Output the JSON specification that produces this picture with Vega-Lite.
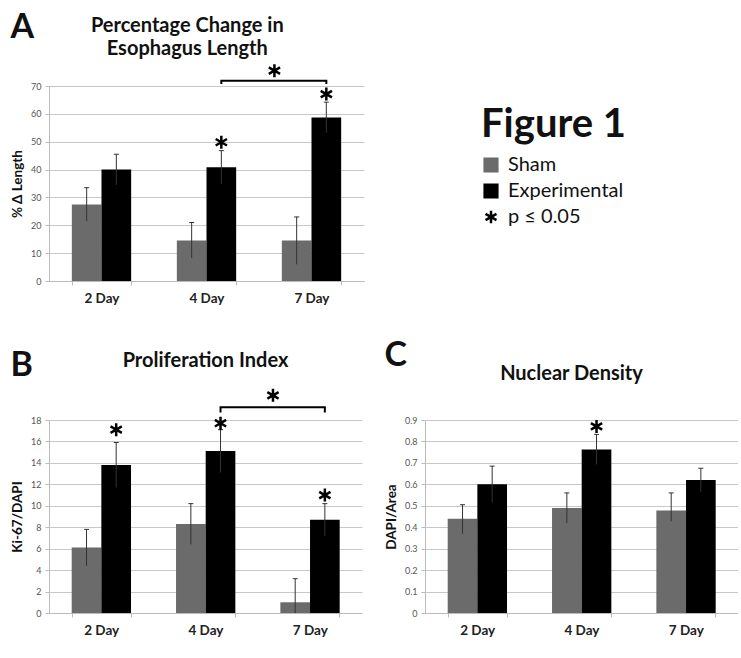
{
  "$schema": "https://vega.github.io/schema/vega-lite/v6.json",
  "padding": {"left": 10, "top": 11, "right": 0, "bottom": 0},
  "background": "white",
  "datasets": {
    "bars": [
      {"panel": "A", "day": "2 Day", "group": "Sham", "value": 27.5, "lo": 21.5, "hi": 33.5},
      {"panel": "A", "day": "2 Day", "group": "Experimental", "value": 40.0, "lo": 34.5, "hi": 45.5},
      {"panel": "A", "day": "4 Day", "group": "Sham", "value": 14.5, "lo": 8.2, "hi": 21.0},
      {"panel": "A", "day": "4 Day", "group": "Experimental", "value": 40.8, "lo": 34.8, "hi": 46.8},
      {"panel": "A", "day": "7 Day", "group": "Sham", "value": 14.5, "lo": 6.0, "hi": 23.0},
      {"panel": "A", "day": "7 Day", "group": "Experimental", "value": 58.7, "lo": 53.2, "hi": 64.2},
      {"panel": "B", "day": "2 Day", "group": "Sham", "value": 6.1, "lo": 4.4, "hi": 7.8},
      {"panel": "B", "day": "2 Day", "group": "Experimental", "value": 13.8, "lo": 11.7, "hi": 15.9},
      {"panel": "B", "day": "4 Day", "group": "Sham", "value": 8.3, "lo": 6.4, "hi": 10.2},
      {"panel": "B", "day": "4 Day", "group": "Experimental", "value": 15.1, "lo": 13.1, "hi": 17.1},
      {"panel": "B", "day": "7 Day", "group": "Sham", "value": 1.0, "lo": 0.0, "hi": 3.2},
      {"panel": "B", "day": "7 Day", "group": "Experimental", "value": 8.7, "lo": 7.2, "hi": 10.2},
      {"panel": "C", "day": "2 Day", "group": "Sham", "value": 0.44, "lo": 0.37, "hi": 0.505},
      {"panel": "C", "day": "2 Day", "group": "Experimental", "value": 0.60, "lo": 0.515, "hi": 0.685},
      {"panel": "C", "day": "4 Day", "group": "Sham", "value": 0.49, "lo": 0.42, "hi": 0.56},
      {"panel": "C", "day": "4 Day", "group": "Experimental", "value": 0.763, "lo": 0.693, "hi": 0.833},
      {"panel": "C", "day": "7 Day", "group": "Sham", "value": 0.478, "lo": 0.428, "hi": 0.56},
      {"panel": "C", "day": "7 Day", "group": "Experimental", "value": 0.62, "lo": 0.565, "hi": 0.675}
    ],
    "stars": [
      {"panel": "A", "day": "4 Day", "group": "Experimental", "y": 49.8},
      {"panel": "A", "day": "7 Day", "group": "Experimental", "y": 67.1},
      {"panel": "B", "day": "2 Day", "group": "Experimental", "y": 17.1},
      {"panel": "B", "day": "4 Day", "group": "Experimental", "y": 17.7},
      {"panel": "B", "day": "7 Day", "group": "Experimental", "y": 11.0},
      {"panel": "C", "day": "4 Day", "group": "Experimental", "y": 0.87}
    ],
    "bracket": [
      {"panel": "A", "day": "4 Day", "group": "Experimental", "y": 70.7, "k": 1},
      {"panel": "A", "day": "4 Day", "group": "Experimental", "y": 71.9, "k": 2},
      {"panel": "A", "day": "7 Day", "group": "Experimental", "y": 71.9, "k": 3},
      {"panel": "A", "day": "7 Day", "group": "Experimental", "y": 70.7, "k": 4},
      {"panel": "B", "day": "4 Day", "group": "Experimental", "y": 18.7, "k": 1},
      {"panel": "B", "day": "4 Day", "group": "Experimental", "y": 19.2, "k": 2},
      {"panel": "B", "day": "7 Day", "group": "Experimental", "y": 19.2, "k": 3},
      {"panel": "B", "day": "7 Day", "group": "Experimental", "y": 18.7, "k": 4}
    ],
    "bstars": [
      {"panel": "A", "day": "7 Day", "y": 75.5},
      {"panel": "B", "day": "7 Day", "y": 20.3}
    ],
    "legend": [
      {"item": "Sham"},
      {"item": "Experimental"},
      {"item": "p ≤ 0.05"}
    ]
  },
  "vconcat": [
    {
      "spacing": 115,
      "hconcat": [
        {
          "title": {"text": "A", "anchor": "start", "fontSize": 34, "offset": -29, "frame": "bounds"},
          "vconcat": [
            {
              "width": 315,
              "height": 195,
              "title": {"text": ["Percentage Change in", "Esophagus Length"], "offset": 0, "frame": "bounds", "fontSize": 20},
              "layer": [
                {
                  "data": {"name": "bars"},
                  "transform": [{"filter": "datum.panel === 'A'"}],
                  "mark": {"type": "bar"},
                  "encoding": {
                    "x": {"field": "day", "type": "nominal", "title": null, "scale": {"domain": ["2 Day", "4 Day", "7 Day"], "paddingInner": 0.435, "paddingOuter": 0.2175}},
                    "xOffset": {"field": "group", "type": "nominal", "scale": {"domain": ["Sham", "Experimental"], "paddingInner": 0, "paddingOuter": 0}},
                    "y": {"field": "value", "type": "quantitative", "title": "% Δ Length", "scale": {"domain": [0, 70]}, "axis": {"values": [0, 10, 20, 30, 40, 50, 60, 70]}},
                    "color": {"field": "group", "type": "nominal", "scale": {"domain": ["Sham", "Experimental", "p ≤ 0.05"], "range": ["#6b6b6b", "#000000", "#000000"]}, "legend": null}
                  }
                },
                {
                  "data": {"name": "bars"},
                  "transform": [{"filter": "datum.panel === 'A'"}],
                  "mark": {"type": "rule", "color": "#333333", "strokeWidth": 1},
                  "encoding": {
                    "x": {"field": "day", "type": "nominal", "title": null, "scale": {"domain": ["2 Day", "4 Day", "7 Day"], "paddingInner": 0.435, "paddingOuter": 0.2175}},
                    "xOffset": {"field": "group", "type": "nominal", "scale": {"domain": ["Sham", "Experimental"], "paddingInner": 0, "paddingOuter": 0}},
                    "y": {"field": "lo", "type": "quantitative", "title": "% Δ Length", "scale": {"domain": [0, 70]}, "axis": {"values": [0, 10, 20, 30, 40, 50, 60, 70]}},
                    "y2": {"field": "hi"}
                  }
                },
                {
                  "data": {"name": "bars"},
                  "transform": [{"filter": "datum.panel === 'A'"}],
                  "mark": {"type": "tick", "color": "#333333", "thickness": 1, "size": 5, "opacity": 1},
                  "encoding": {
                    "x": {"field": "day", "type": "nominal", "title": null, "scale": {"domain": ["2 Day", "4 Day", "7 Day"], "paddingInner": 0.435, "paddingOuter": 0.2175}},
                    "xOffset": {"field": "group", "type": "nominal", "scale": {"domain": ["Sham", "Experimental"], "paddingInner": 0, "paddingOuter": 0}},
                    "y": {"field": "hi", "type": "quantitative", "title": "% Δ Length", "scale": {"domain": [0, 70]}, "axis": {"values": [0, 10, 20, 30, 40, 50, 60, 70]}}
                  }
                },
                {
                  "data": {"name": "stars"},
                  "transform": [{"filter": "datum.panel === 'A'"}],
                  "mark": {"type": "point", "shape": "M0,-1L0,1M-0.866,-0.5L0.866,0.5M-0.866,0.5L0.866,-0.5", "size": 170, "strokeWidth": 2.5, "color": "#000000", "filled": false, "opacity": 1},
                  "encoding": {
                    "x": {"field": "day", "type": "nominal", "title": null, "scale": {"domain": ["2 Day", "4 Day", "7 Day"], "paddingInner": 0.435, "paddingOuter": 0.2175}},
                    "xOffset": {"field": "group", "type": "nominal", "scale": {"domain": ["Sham", "Experimental"], "paddingInner": 0, "paddingOuter": 0}},
                    "y": {"field": "y", "type": "quantitative", "title": "% Δ Length", "scale": {"domain": [0, 70]}, "axis": {"values": [0, 10, 20, 30, 40, 50, 60, 70]}}
                  }
                },
                {
                  "data": {"name": "bracket"},
                  "transform": [{"filter": "datum.panel === 'A'"}],
                  "mark": {"type": "line", "color": "#000000", "strokeWidth": 2},
                  "encoding": {
                    "x": {"field": "day", "type": "nominal", "title": null, "scale": {"domain": ["2 Day", "4 Day", "7 Day"], "paddingInner": 0.435, "paddingOuter": 0.2175}},
                    "xOffset": {"field": "group", "type": "nominal", "scale": {"domain": ["Sham", "Experimental"], "paddingInner": 0, "paddingOuter": 0}},
                    "y": {"field": "y", "type": "quantitative", "title": "% Δ Length", "scale": {"domain": [0, 70]}, "axis": {"values": [0, 10, 20, 30, 40, 50, 60, 70]}},
                    "order": {"field": "k", "type": "quantitative"}
                  }
                },
                {
                  "data": {"name": "bstars"},
                  "transform": [{"filter": "datum.panel === 'A'"}],
                  "mark": {"type": "point", "shape": "M0,-1L0,1M-0.866,-0.5L0.866,0.5M-0.866,0.5L0.866,-0.5", "size": 170, "strokeWidth": 2.5, "color": "#000000", "filled": false, "opacity": 1},
                  "encoding": {
                    "x": {"field": "day", "type": "nominal", "title": null, "bandPosition": -0.125, "scale": {"domain": ["2 Day", "4 Day", "7 Day"], "paddingInner": 0.435, "paddingOuter": 0.2175}},
                    "y": {"field": "y", "type": "quantitative", "title": "% Δ Length", "scale": {"domain": [0, 70]}, "axis": {"values": [0, 10, 20, 30, 40, 50, 60, 70]}}
                  }
                }
              ]
            }
          ]
        },
        {
          "width": 150,
          "height": 195,
          "title": {"text": "Figure 1", "fontSize": 40, "anchor": "start", "offset": 0, "dy": 91, "baseline": "alphabetic", "frame": "group"},
          "data": {"name": "legend"},
          "encoding": {
            "y": {"field": "item", "type": "nominal", "scale": {"type": "point", "domain": ["Sham", "Experimental", "p ≤ 0.05"], "range": [79, 131], "padding": 0}, "axis": null}
          },
          "layer": [
            {
              "mark": {"type": "point", "filled": true, "strokeWidth": 2.5, "opacity": 1, "size": 160},
              "encoding": {
                "x": {"datum": 10, "type": "quantitative", "scale": {"domain": [0, 150]}, "axis": null},
                "color": {"field": "item", "type": "nominal", "scale": {"domain": ["Sham", "Experimental", "p ≤ 0.05"], "range": ["#6b6b6b", "#000000", "#000000"]}, "legend": null},
                "stroke": {"field": "item", "type": "nominal", "scale": {"domain": ["Sham", "Experimental", "p ≤ 0.05"], "range": ["#6b6b6b", "#000000", "#000000"]}, "legend": null},
                "shape": {"field": "item", "type": "nominal", "scale": {"domain": ["Sham", "Experimental", "p ≤ 0.05"], "range": ["square", "square", "M0,-1L0,1M-0.866,-0.5L0.866,0.5M-0.866,0.5L0.866,-0.5"]}, "legend": null}
              }
            },
            {
              "mark": {"type": "text", "align": "left", "baseline": "middle", "fontSize": 20, "font": "Lato", "color": "#111111"},
              "encoding": {
                "x": {"datum": 27, "type": "quantitative", "scale": {"domain": [0, 150]}, "axis": null},
                "text": {"field": "item"}
              }
            }
          ]
        }
      ]
    },
    {
      "spacing": 22,
      "hconcat": [
        {
          "title": {"text": "B", "anchor": "start", "fontSize": 34, "offset": -32, "frame": "bounds"},
          "vconcat": [
            {
              "width": 313,
              "height": 193,
              "title": {"text": "Proliferation Index", "offset": 13, "fontSize": 20},
              "layer": [
                {
                  "data": {"name": "bars"},
                  "transform": [{"filter": "datum.panel === 'B'"}],
                  "mark": {"type": "bar"},
                  "encoding": {
                    "x": {"field": "day", "type": "nominal", "title": null, "scale": {"domain": ["2 Day", "4 Day", "7 Day"], "paddingInner": 0.435, "paddingOuter": 0.2175}},
                    "xOffset": {"field": "group", "type": "nominal", "scale": {"domain": ["Sham", "Experimental"], "paddingInner": 0, "paddingOuter": 0}},
                    "y": {"field": "value", "type": "quantitative", "title": "Ki-67/DAPI", "scale": {"domain": [0, 18]}, "axis": {"values": [0, 2, 4, 6, 8, 10, 12, 14, 16, 18]}},
                    "color": {"field": "group", "type": "nominal", "scale": {"domain": ["Sham", "Experimental", "p ≤ 0.05"], "range": ["#6b6b6b", "#000000", "#000000"]}, "legend": null}
                  }
                },
                {
                  "data": {"name": "bars"},
                  "transform": [{"filter": "datum.panel === 'B'"}],
                  "mark": {"type": "rule", "color": "#333333", "strokeWidth": 1},
                  "encoding": {
                    "x": {"field": "day", "type": "nominal", "title": null, "scale": {"domain": ["2 Day", "4 Day", "7 Day"], "paddingInner": 0.435, "paddingOuter": 0.2175}},
                    "xOffset": {"field": "group", "type": "nominal", "scale": {"domain": ["Sham", "Experimental"], "paddingInner": 0, "paddingOuter": 0}},
                    "y": {"field": "lo", "type": "quantitative", "title": "Ki-67/DAPI", "scale": {"domain": [0, 18]}, "axis": {"values": [0, 2, 4, 6, 8, 10, 12, 14, 16, 18]}},
                    "y2": {"field": "hi"}
                  }
                },
                {
                  "data": {"name": "bars"},
                  "transform": [{"filter": "datum.panel === 'B'"}],
                  "mark": {"type": "tick", "color": "#333333", "thickness": 1, "size": 5, "opacity": 1},
                  "encoding": {
                    "x": {"field": "day", "type": "nominal", "title": null, "scale": {"domain": ["2 Day", "4 Day", "7 Day"], "paddingInner": 0.435, "paddingOuter": 0.2175}},
                    "xOffset": {"field": "group", "type": "nominal", "scale": {"domain": ["Sham", "Experimental"], "paddingInner": 0, "paddingOuter": 0}},
                    "y": {"field": "hi", "type": "quantitative", "title": "Ki-67/DAPI", "scale": {"domain": [0, 18]}, "axis": {"values": [0, 2, 4, 6, 8, 10, 12, 14, 16, 18]}}
                  }
                },
                {
                  "data": {"name": "stars"},
                  "transform": [{"filter": "datum.panel === 'B'"}],
                  "mark": {"type": "point", "shape": "M0,-1L0,1M-0.866,-0.5L0.866,0.5M-0.866,0.5L0.866,-0.5", "size": 170, "strokeWidth": 2.5, "color": "#000000", "filled": false, "opacity": 1},
                  "encoding": {
                    "x": {"field": "day", "type": "nominal", "title": null, "scale": {"domain": ["2 Day", "4 Day", "7 Day"], "paddingInner": 0.435, "paddingOuter": 0.2175}},
                    "xOffset": {"field": "group", "type": "nominal", "scale": {"domain": ["Sham", "Experimental"], "paddingInner": 0, "paddingOuter": 0}},
                    "y": {"field": "y", "type": "quantitative", "title": "Ki-67/DAPI", "scale": {"domain": [0, 18]}, "axis": {"values": [0, 2, 4, 6, 8, 10, 12, 14, 16, 18]}}
                  }
                },
                {
                  "data": {"name": "bracket"},
                  "transform": [{"filter": "datum.panel === 'B'"}],
                  "mark": {"type": "line", "color": "#000000", "strokeWidth": 2},
                  "encoding": {
                    "x": {"field": "day", "type": "nominal", "title": null, "scale": {"domain": ["2 Day", "4 Day", "7 Day"], "paddingInner": 0.435, "paddingOuter": 0.2175}},
                    "xOffset": {"field": "group", "type": "nominal", "scale": {"domain": ["Sham", "Experimental"], "paddingInner": 0, "paddingOuter": 0}},
                    "y": {"field": "y", "type": "quantitative", "title": "Ki-67/DAPI", "scale": {"domain": [0, 18]}, "axis": {"values": [0, 2, 4, 6, 8, 10, 12, 14, 16, 18]}},
                    "order": {"field": "k", "type": "quantitative"}
                  }
                },
                {
                  "data": {"name": "bstars"},
                  "transform": [{"filter": "datum.panel === 'B'"}],
                  "mark": {"type": "point", "shape": "M0,-1L0,1M-0.866,-0.5L0.866,0.5M-0.866,0.5L0.866,-0.5", "size": 170, "strokeWidth": 2.5, "color": "#000000", "filled": false, "opacity": 1},
                  "encoding": {
                    "x": {"field": "day", "type": "nominal", "title": null, "bandPosition": -0.125, "scale": {"domain": ["2 Day", "4 Day", "7 Day"], "paddingInner": 0.435, "paddingOuter": 0.2175}},
                    "y": {"field": "y", "type": "quantitative", "title": "Ki-67/DAPI", "scale": {"domain": [0, 18]}, "axis": {"values": [0, 2, 4, 6, 8, 10, 12, 14, 16, 18]}}
                  }
                }
              ]
            }
          ]
        },
        {
          "title": {"text": "C", "anchor": "start", "fontSize": 34, "offset": -9, "frame": "bounds"},
          "vconcat": [
            {
              "width": 313,
              "height": 193,
              "title": {"text": "Nuclear Density", "offset": 31, "fontSize": 20, "dx": -10},
              "layer": [
                {
                  "data": {"name": "bars"},
                  "transform": [{"filter": "datum.panel === 'C'"}],
                  "mark": {"type": "bar"},
                  "encoding": {
                    "x": {"field": "day", "type": "nominal", "title": null, "scale": {"domain": ["2 Day", "4 Day", "7 Day"], "paddingInner": 0.435, "paddingOuter": 0.2175}},
                    "xOffset": {"field": "group", "type": "nominal", "scale": {"domain": ["Sham", "Experimental"], "paddingInner": 0, "paddingOuter": 0}},
                    "y": {"field": "value", "type": "quantitative", "title": "DAPI/Area", "scale": {"domain": [0, 0.9]}, "axis": {"values": [0, 0.1, 0.2, 0.3, 0.4, 0.5, 0.6, 0.7, 0.8, 0.9], "format": "~g"}},
                    "color": {"field": "group", "type": "nominal", "scale": {"domain": ["Sham", "Experimental", "p ≤ 0.05"], "range": ["#6b6b6b", "#000000", "#000000"]}, "legend": null}
                  }
                },
                {
                  "data": {"name": "bars"},
                  "transform": [{"filter": "datum.panel === 'C'"}],
                  "mark": {"type": "rule", "color": "#333333", "strokeWidth": 1},
                  "encoding": {
                    "x": {"field": "day", "type": "nominal", "title": null, "scale": {"domain": ["2 Day", "4 Day", "7 Day"], "paddingInner": 0.435, "paddingOuter": 0.2175}},
                    "xOffset": {"field": "group", "type": "nominal", "scale": {"domain": ["Sham", "Experimental"], "paddingInner": 0, "paddingOuter": 0}},
                    "y": {"field": "lo", "type": "quantitative", "title": "DAPI/Area", "scale": {"domain": [0, 0.9]}, "axis": {"values": [0, 0.1, 0.2, 0.3, 0.4, 0.5, 0.6, 0.7, 0.8, 0.9], "format": "~g"}},
                    "y2": {"field": "hi"}
                  }
                },
                {
                  "data": {"name": "bars"},
                  "transform": [{"filter": "datum.panel === 'C'"}],
                  "mark": {"type": "tick", "color": "#333333", "thickness": 1, "size": 5, "opacity": 1},
                  "encoding": {
                    "x": {"field": "day", "type": "nominal", "title": null, "scale": {"domain": ["2 Day", "4 Day", "7 Day"], "paddingInner": 0.435, "paddingOuter": 0.2175}},
                    "xOffset": {"field": "group", "type": "nominal", "scale": {"domain": ["Sham", "Experimental"], "paddingInner": 0, "paddingOuter": 0}},
                    "y": {"field": "hi", "type": "quantitative", "title": "DAPI/Area", "scale": {"domain": [0, 0.9]}, "axis": {"values": [0, 0.1, 0.2, 0.3, 0.4, 0.5, 0.6, 0.7, 0.8, 0.9], "format": "~g"}}
                  }
                },
                {
                  "data": {"name": "stars"},
                  "transform": [{"filter": "datum.panel === 'C'"}],
                  "mark": {"type": "point", "shape": "M0,-1L0,1M-0.866,-0.5L0.866,0.5M-0.866,0.5L0.866,-0.5", "size": 170, "strokeWidth": 2.5, "color": "#000000", "filled": false, "opacity": 1},
                  "encoding": {
                    "x": {"field": "day", "type": "nominal", "title": null, "scale": {"domain": ["2 Day", "4 Day", "7 Day"], "paddingInner": 0.435, "paddingOuter": 0.2175}},
                    "xOffset": {"field": "group", "type": "nominal", "scale": {"domain": ["Sham", "Experimental"], "paddingInner": 0, "paddingOuter": 0}},
                    "y": {"field": "y", "type": "quantitative", "title": "DAPI/Area", "scale": {"domain": [0, 0.9]}, "axis": {"values": [0, 0.1, 0.2, 0.3, 0.4, 0.5, 0.6, 0.7, 0.8, 0.9], "format": "~g"}}
                  }
                }
              ]
            }
          ]
        }
      ]
    }
  ],
  "spacing": 33,
  "config": {
    "font": "Lato",
    "view": {"stroke": null},
    "title": {"font": "Lato", "fontWeight": "bold", "fontSize": 20, "lineHeight": 23, "color": "#111111"},
    "axisX": {
      "labelFont": "Lato", "labelFontWeight": "bold", "labelFontSize": 13.5, "labelColor": "#222222",
      "labelAngle": 0, "labelPadding": 6, "domainColor": "#bbbbbb", "tickColor": "#bbbbbb",
      "tickBand": "extent", "tickSize": 4, "grid": false
    },
    "axisY": {
      "labelFont": "Lato", "labelFontSize": 9, "labelColor": "#555555", "labelPadding": 4,
      "domainColor": "#bbbbbb", "tickColor": "#bbbbbb", "tickSize": 4,
      "grid": true, "gridColor": "#c8c8c8",
      "titleFont": "Lato", "titleFontSize": 13.5, "titleFontWeight": "bold", "titleColor": "#111111", "titlePadding": 6
    }
  }
}
